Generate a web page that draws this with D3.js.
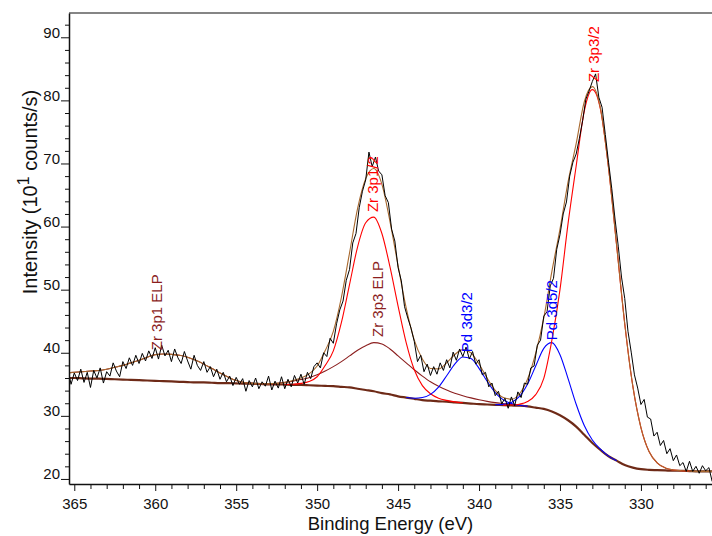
<!DOCTYPE html>
<html>
<head>
<meta charset="utf-8">
<script src="https://cdn.jsdelivr.net/npm/d3@7"></script>
<style>
  html, body { margin: 0; padding: 0; background: #fff; }
  svg { display: block; font-family: "Liberation Sans", Arial, sans-serif; }
</style>
</head>
<body>
<div id="chart"></div>
<script>
// fitted curves are sampled every 0.5 eV, starting at the given energy
const fitStep = 0.5;

const backgroundStart = 365.5;
const background = [
  36.0, 36.0, 35.95, 35.9, 35.9, 35.85, 35.8, 35.75, 35.7, 35.65,
  35.6, 35.55, 35.5, 35.45, 35.4, 35.35, 35.3, 35.3, 35.25, 35.2,
  35.2, 35.15, 35.1, 35.1, 35.05, 35.0, 35.0, 34.95, 34.9, 34.9,
  34.85, 34.8, 34.75, 34.7, 34.6, 34.5, 34.3, 34.1, 33.9, 33.6,
  33.4, 33.1, 32.9, 32.7, 32.5, 32.4, 32.3, 32.25, 32.15, 32.05,
  31.95, 31.85, 31.8, 31.75, 31.7, 31.65, 31.6, 31.5, 31.3, 31.1,
  30.7, 30.1, 29.3, 28.3, 27.0, 25.7, 24.6, 23.6, 22.9, 22.2,
  21.8, 21.55, 21.45, 21.4, 21.35, 21.3, 21.3, 21.25, 21.2, 21.2,
  21.2
];

const envelopeStart = 365.5;
const envelope = [
  36.8, 36.9, 37.0, 37.1, 37.2, 37.4, 37.7, 38.0, 38.4, 38.8,
  39.3, 39.7, 39.8, 39.75, 39.6, 39.3, 38.8, 38.2, 37.5, 36.8,
  36.15, 35.6, 35.3, 35.15, 35.07, 35.07, 35.15, 35.3, 35.6, 36.0,
  36.65, 37.9, 40.35, 43.4, 48.8, 55.8, 62.9, 67.6, 69.2, 66.7,
  60.8, 53.8, 47.1, 42.0, 39.0, 37.5, 37.45, 38.4, 39.72, 40.5,
  39.98, 38.23, 35.98, 34.04, 32.9, 32.64, 33.5, 35.86, 39.96, 45.54,
  52.9, 59.6, 67.1, 73.14, 79.77, 82.18, 78.72, 69.3, 57.0, 44.6,
  34.7, 28.15, 24.35, 22.56, 21.75, 21.42, 21.3, 21.25, 21.2, 21.2,
  21.2
];

const zr3p1ElpStart = 365.5;
const zr3p1Elp = [
  36.8, 36.9, 37.0, 37.1, 37.2, 37.4, 37.7, 38.0, 38.4, 38.8,
  39.3, 39.7, 39.8, 39.75, 39.6, 39.3, 38.8, 38.2, 37.5, 36.8,
  36.15, 35.6, 35.3, 35.15, 35.07, 35.02, 35.0
];

const zr3p12Start = 352;
const zr3p12 = [
  34.97, 35.0, 35.15, 35.45, 36.2, 38.0, 40.3, 44.8, 50.8, 56.8,
  60.6, 61.5, 58.9, 53.6, 47.4, 41.6, 37.3, 34.8, 33.5, 32.8,
  32.45, 32.22, 32.08
];

const zr3p3ElpStart = 353.5;
const zr3p3Elp = [
  35.05, 35.05, 35.15, 35.3, 35.5, 35.75, 36.05, 36.5, 37.1, 37.8,
  38.6, 39.5, 40.4, 41.1, 41.6, 41.4, 40.6, 39.5, 38.4, 37.3,
  36.3, 35.4, 34.7, 34.1, 33.6, 33.2, 32.85, 32.55, 32.3, 32.1,
  31.95, 31.8, 31.7, 31.55
];

const pd3d32Start = 344.5;
const pd3d32 = [
  32.9, 32.8, 32.9, 33.4, 34.55, 36.35, 38.2, 39.33, 39.08, 37.53,
  35.48, 33.69, 32.53, 31.94, 31.68, 31.52
];

const pd3d52Start = 339;
const pd3d52 = [
  31.76, 31.82, 32.13, 33.07, 35.04, 37.9, 40.7, 41.6, 39.7, 35.9,
  31.84, 28.47, 26.18, 24.72, 23.62, 22.9
];

const zr3p32Start = 338.5;
const zr3p32 = [
  31.7, 31.72, 31.85, 32.27, 33.36, 35.94, 42.0, 50.0, 60.5, 69.6,
  78.3, 81.7, 78.6, 69.3, 57.0, 44.6, 34.7, 28.15, 24.35, 22.56,
  21.75, 21.42, 21.3, 21.25
];

// measured spectrum, 0.2 eV per channel
const rawStart = 365.4;
const rawStep = 0.2;
const rawCounts = [
  37.5, 35.0, 36.8, 35.6, 37.4, 35.3, 36.9, 34.5, 37.2, 36.0,
  37.6, 35.2, 37.0, 36.3, 38.4, 37.1, 36.2, 38.6, 37.5, 39.2,
  38.0, 39.6, 38.3, 39.9, 38.7, 40.3, 39.1, 40.8, 39.0, 41.2,
  39.5, 40.4, 38.6, 40.6, 39.2, 38.3, 40.2, 38.7, 37.4, 39.6,
  38.0, 37.2, 38.6, 36.9, 37.8, 36.2, 37.4, 35.8, 36.9, 35.4,
  36.3, 34.8, 36.1, 35.0, 35.9, 33.9, 35.6, 34.6, 36.0, 34.3,
  35.4, 34.7, 36.3, 34.1, 35.5, 34.4, 36.2, 34.3, 35.8, 34.6,
  36.4, 35.2, 36.6, 35.0, 36.9, 35.9, 37.8, 38.4, 37.6, 40.0,
  39.4, 42.3, 41.5, 44.6, 46.8, 48.2, 51.5, 53.2, 57.4, 58.9,
  63.0, 65.6, 67.4, 71.8, 69.5, 71.0, 68.8, 68.2, 64.9, 63.8,
  59.6, 57.7, 53.5, 51.4, 47.3, 45.5, 43.9, 41.8, 38.6, 39.6,
  37.0, 38.2, 36.4, 37.8, 36.6, 38.4, 37.2, 38.9, 37.6, 40.1,
  38.8, 40.6, 39.4, 40.9, 39.0, 40.2, 38.2, 38.9, 36.5, 36.9,
  34.6, 35.2, 33.2, 33.9, 31.9, 32.8, 31.2, 33.0, 31.6, 33.8,
  32.9, 35.2, 35.0, 37.6, 37.9, 41.2, 42.0, 45.8, 46.5, 50.6,
  51.8, 56.4, 58.7, 62.0, 63.9, 68.0, 70.2, 71.5, 74.0, 76.8,
  80.2, 81.5, 83.0, 84.2, 80.5, 78.9, 74.6, 70.2, 66.0, 61.2,
  56.9, 52.0, 48.6, 43.4, 40.1, 36.5, 34.4, 31.8, 32.6, 29.8,
  29.5, 26.8, 27.4, 25.3, 26.1, 24.0, 24.8, 22.9, 23.8, 22.1,
  22.6, 21.2, 22.8, 21.2, 22.0, 20.9, 22.1, 21.3, 21.8, 19.6
];

const peakNames = ['Zr 3p1 ELP', 'Zr 3p1/2', 'Zr 3p3 ELP', 'Pd 3d3/2', 'Pd 3d5/2', 'Zr 3p3/2'];
const peakLabelEnergy = [359.9, 346.55, 346.25, 340.8, 335.55, 332.9];
const peakLabelValue = [40.4, 62.3, 42.5, 40.1, 42.0, 82.9];

const xTicks = [365, 360, 355, 350, 345, 340, 335, 330];
const yTicks = [20, 30, 40, 50, 60, 70, 80, 90];

const width = 712, height = 536;
const margin = { top: 13, right: 0, bottom: 52, left: 69 };

const ELP_COLOR = '#8b1e1e';
const labelColors = [ELP_COLOR, '#ff0000', ELP_COLOR, '#0000ff', '#0000ff', '#ff0000'];

const svg = d3.select('#chart').append('svg')
  .attr('width', width).attr('height', height);

const x = d3.scaleLinear().domain([365.327, 325.61])
  .range([margin.left, width - margin.right]);
const y = d3.scaleLinear().domain([19.2, 93.85])
  .range([height - margin.bottom, margin.top]);

svg.append('clipPath').attr('id', 'plot-clip')
  .append('rect')
  .attr('x', margin.left).attr('y', margin.top)
  .attr('width', width - margin.left - margin.right)
  .attr('height', height - margin.top - margin.bottom);

function points(start, step, vals) {
  return vals.map((v, i) => [start - i * step, v]);
}

const smooth = d3.line().x(d => x(d[0])).y(d => y(d[1])).curve(d3.curveMonotoneX);
const straight = d3.line().x(d => x(d[0])).y(d => y(d[1]));

const plot = svg.append('g').attr('clip-path', 'url(#plot-clip)');

const curves = [
  { start: zr3p1ElpStart, vals: zr3p1Elp, color: ELP_COLOR, w: 1.1 },
  { start: zr3p3ElpStart, vals: zr3p3Elp, color: ELP_COLOR, w: 1.1 },
  { start: zr3p12Start, vals: zr3p12, color: '#ff0000', w: 1.1 },
  { start: pd3d32Start, vals: pd3d32, color: '#0000ff', w: 1.1 },
  { start: pd3d52Start, vals: pd3d52, color: '#0000ff', w: 1.1 },
  { start: zr3p32Start, vals: zr3p32, color: '#ff0000', w: 1.1 },
];

plot.append('path')
  .attr('d', smooth(points(backgroundStart, fitStep, background)))
  .attr('fill', 'none').attr('stroke', '#6e2a17').attr('stroke-width', 2.2);

curves.forEach(c => {
  plot.append('path')
    .attr('d', smooth(points(c.start, fitStep, c.vals)))
    .attr('fill', 'none').attr('stroke', c.color).attr('stroke-width', c.w);
});

plot.append('path')
  .attr('d', smooth(points(envelopeStart, fitStep, envelope)))
  .attr('fill', 'none').attr('stroke', '#a8692e').attr('stroke-width', 1.1);

plot.append('path')
  .attr('d', straight(points(rawStart, rawStep, rawCounts)))
  .attr('fill', 'none').attr('stroke', '#000').attr('stroke-width', 1)
  .attr('stroke-linejoin', 'round');

// rotated peak labels, reading bottom to top
peakNames.forEach((name, i) => {
  svg.append('text')
    .attr('transform', `translate(${x(peakLabelEnergy[i])},${y(peakLabelValue[i])}) rotate(-90)`)
    .attr('dominant-baseline', 'central')
    .attr('fill', labelColors[i]).attr('font-size', 15)
    .text(name);
});

// frame: grey top line
svg.append('line')
  .attr('x1', margin.left).attr('x2', width)
  .attr('y1', margin.top).attr('y2', margin.top)
  .attr('stroke', '#858585').attr('stroke-width', 2);

// y axis
const yMinor = d3.range(20, 94, 2).filter(v => v % 10 !== 0);
svg.append('g').attr('transform', `translate(${margin.left},0)`)
  .call(d3.axisLeft(y).tickValues(yMinor).tickSize(4).tickSizeOuter(0).tickFormat(''))
  .call(g => g.select('.domain').remove())
  .selectAll('line').attr('stroke', '#111');

const yAxis = svg.append('g').attr('transform', `translate(${margin.left},0)`)
  .call(d3.axisLeft(y).tickValues(yTicks).tickSize(8).tickSizeOuter(0).tickPadding(1));
yAxis.select('.domain').attr('stroke', '#111').attr('stroke-width', 1.5);
yAxis.selectAll('line').attr('stroke', '#111');
yAxis.selectAll('text').attr('dy', 0).attr('font-size', 15)
  .attr('font-family', '"Liberation Sans", Arial, sans-serif').attr('fill', '#111');

// x axis
const xMinor = d3.range(326, 366, 1).filter(v => v % 5 !== 0);
svg.append('g').attr('transform', `translate(0,${height - margin.bottom})`)
  .call(d3.axisBottom(x).tickValues(xMinor).tickSize(5).tickSizeOuter(0).tickFormat(''))
  .call(g => g.select('.domain').remove())
  .selectAll('line').attr('stroke', '#111');

const xAxis = svg.append('g').attr('transform', `translate(0,${height - margin.bottom})`)
  .call(d3.axisBottom(x).tickValues(xTicks).tickSize(7).tickSizeOuter(0));
xAxis.select('.domain').attr('stroke', '#111').attr('stroke-width', 1.5);
xAxis.selectAll('line').attr('stroke', '#111');
xAxis.selectAll('text').attr('y', 25).attr('dy', 0).attr('font-size', 15)
  .attr('font-family', '"Liberation Sans", Arial, sans-serif').attr('fill', '#111');

// axis titles
svg.append('text')
  .attr('x', (margin.left + width) / 2).attr('y', 530)
  .attr('text-anchor', 'middle').attr('font-size', 18.5).attr('fill', '#111')
  .text('Binding Energy (eV)');

const yTitle = svg.append('text')
  .attr('transform', `translate(37,${192}) rotate(-90)`)
  .attr('text-anchor', 'middle').attr('font-size', 20).attr('fill', '#111');
yTitle.append('tspan').text('Intensity (10');
yTitle.append('tspan').attr('dy', -8).attr('font-size', 16).text('1');
yTitle.append('tspan').attr('dy', 8).text(' counts/s)');
</script>
</body>
</html>
